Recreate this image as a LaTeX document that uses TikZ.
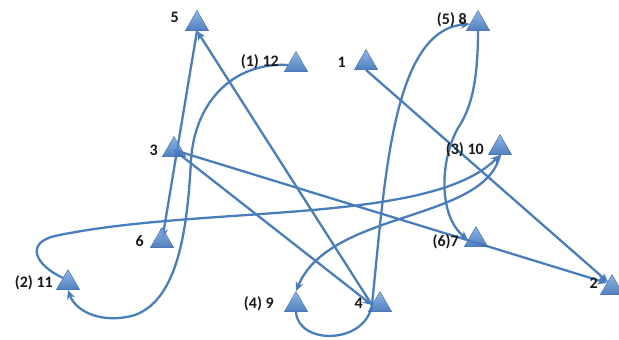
\documentclass[tikz,border=0pt]{standalone}
\usepackage{fontspec}
\setmainfont{Carlito}
\usetikzlibrary{shapes.geometric,arrows.meta,backgrounds}
\definecolor{linkblue}{HTML}{4A7EBB}
\definecolor{tritop}{HTML}{7EABE4}
\definecolor{tribot}{HTML}{3A6DB5}
\definecolor{triedge}{HTML}{3C6BAA}
\tikzset{
  tri/.style={regular polygon,regular polygon sides=3,minimum size=27pt,inner sep=0pt,
    top color=tritop,bottom color=tribot,draw=triedge,line width=.4pt,fill opacity=.88},
  lbl/.style={anchor=base east,inner sep=0pt,font=\fontsize{16}{16}\selectfont\bfseries,text=black!90},
  link/.style={linkblue,line width=2.3pt},
  arr/.style={link,-{Stealth[length=9pt,width=8pt,inset=2.5pt]}}
}

\begin{document}
\begin{tikzpicture}[x=1pt,y=-1pt]
  \useasboundingbox (0,0) rectangle (619,340);
  \node[tri] (t5) at (197,24) {};
  \node[tri] (t12) at (296,65) {};
  \node[tri] (t1) at (366,63) {};
  \node[tri] (t8) at (478,24) {};
  \node[tri] (t3) at (174,150) {};
  \node[tri] (t10) at (500,148) {};
  \node[tri] (t6) at (162,241) {};
  \node[tri] (t7) at (476,240) {};
  \node[tri] (t11) at (68,283) {};
  \node[tri] (t9) at (296,305) {};
  \node[tri] (t4) at (380,305) {};
  \node[tri] (t2) at (612,288) {};

  \node[lbl] (l5) at (179,23) {5};
  \node[lbl] (l12) at (279,66) {(1) 12};
  \node[lbl] (l1) at (346,67) {1};
  \node[lbl] (l8) at (467,24) {(5) 8};
  \node[lbl] (l3) at (158,155) {3};
  \node[lbl] (l10) at (484,154) {(3) 10};
  \node[lbl] (l6) at (144,246) {6};
  \node[lbl] (l7) at (459,246) {(6)7};
  \node[lbl] (l11) at (53,287) {(2) 11};
  \node[lbl] (l9) at (274,308) {(4) 9};
  \node[lbl] (l4) at (363,308) {4};
  \node[lbl] (l2) at (598,288) {2};

  \begin{scope}[on background layer]
    \draw[arr] (t1.south) -- ([shift={(-4,-6)}]t2.center);
    \draw[arr] (t3.center) -- ([shift={(-5,-5)}]t2.center);
    \draw[arr] (t3.center) -- (t4.west);
    \draw[arr] (t4.west) -- (t5.south);
    \draw[arr,shorten >=3pt] (t5.south) -- (t6.center);
    \draw[arr] (t12.west) .. controls (235,62) and (195,100) .. (191,160)
      .. controls (187,240) and (175,300) .. (135,315)
      .. controls (100,325) and (75,310) .. (t11.south);
    \draw[arr] (t11.north west) .. controls (35,265) and (25,243) .. (55,236)
      .. controls (200,205) and (430,225) .. (t10.south);
    \draw[arr] (t10.south) .. controls (485,222) and (330,210) .. (t9.north);
    \draw[arr] (t9.south) .. controls (298,345) and (365,345) .. (t4.west)
      .. controls (385,180) and (392,30) .. (t8.west);
    \draw[arr] (t8.south) .. controls (478,85) and (470,110) .. (458,128)
      .. controls (440,160) and (438,215) .. (t7.west);
  \end{scope}
\end{tikzpicture}
\end{document}
